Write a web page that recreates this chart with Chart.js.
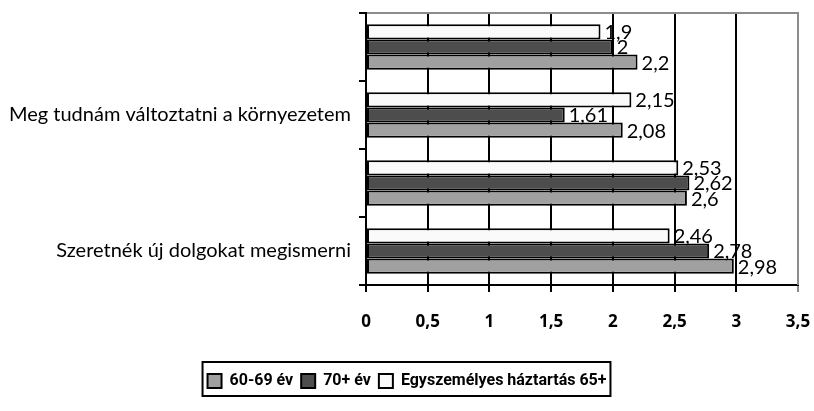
<!DOCTYPE html>
<html>
<head>
<meta charset="utf-8">
<script src="https://cdn.jsdelivr.net/npm/chart.js@4"></script>
<style>
  html, body { margin: 0; padding: 0; background: #fff; }
  #wrap { width: 814px; height: 411px; }
</style>
</head>
<body>
<div id="wrap"><canvas id="chart" width="814" height="411"></canvas></div>
<script>
'use strict';

// categories top to bottom (every other one has no label in the source)
const categories = ['', 'Meg tudnám változtatni a környezetem', '', 'Szeretnék új dolgokat megismerni'];
const seriesNames = ['Egyszemélyes háztartás 65+', '70+ év', '60-69 év'];
const single65 = [1.9, 2.15, 2.53, 2.46];
const age70 = [2, 1.61, 2.62, 2.78];
const age6069 = [2.2, 2.08, 2.6, 2.98];
const xTicks = [0, 0.5, 1, 1.5, 2, 2.5, 3, 3.5];

const FONT = 'Lato, "Open Sans", sans-serif';
const BOLD_FONT = '"Open Sans", sans-serif';
const LEGEND_FONT = 'Roboto, "Open Sans", sans-serif';
const fmt = v => String(v).replace('.', ',');

// value labels to the right of each bar
const valueLabels = {
  id: 'valueLabels',
  afterDatasetsDraw(chart) {
    const ctx = chart.ctx;
    ctx.save();
    ctx.font = '20px ' + FONT;
    ctx.fillStyle = '#000';
    ctx.textAlign = 'left';
    ctx.textBaseline = 'middle';
    chart.data.datasets.forEach((ds, i) => {
      chart.getDatasetMeta(i).data.forEach((bar, j) => {
        ctx.fillText(fmt(ds.data[j]), bar.x + 4, bar.y + 1);
      });
    });
    ctx.restore();
  }
};

// gray frame on top/right, black left axis, box round the legend
const frame = {
  id: 'frame',
  afterDraw(chart) {
    const ctx = chart.ctx;
    const a = chart.chartArea;
    ctx.save();
    ctx.lineWidth = 2;
    ctx.strokeStyle = '#8c8c8c';
    ctx.beginPath();
    ctx.moveTo(a.left, a.top);
    ctx.lineTo(a.right, a.top);
    ctx.lineTo(a.right, a.bottom);
    ctx.stroke();
    ctx.strokeStyle = '#000';
    ctx.beginPath();
    ctx.moveTo(a.left, a.top - 1);
    ctx.lineTo(a.left, a.bottom + 1);
    ctx.stroke();

    const boxes = chart.legend.legendHitBoxes;
    if (boxes && boxes.length) {
      const left = Math.min(...boxes.map(b => b.left)) - 5;
      const right = Math.max(...boxes.map(b => b.left + b.width)) + 4;
      const top = Math.min(...boxes.map(b => b.top)) - 11;
      const bottom = Math.max(...boxes.map(b => b.top + b.height)) + 7;
      ctx.strokeRect(left, top, right - left, bottom - top);
    }
    ctx.restore();
  }
};

const makeSet = (label, data, color) => ({
  label: label,
  data: data,
  backgroundColor: color,
  borderColor: '#000',
  borderWidth: 2,
  borderSkipped: false,
  categoryPercentage: 0.67,
  barPercentage: 1
});

new Chart(document.getElementById('chart'), {
  type: 'bar',
  data: {
    labels: categories,
    datasets: [
      makeSet(seriesNames[0], single65, '#fafafa'),
      makeSet(seriesNames[1], age70, '#4d4d4d'),
      makeSet(seriesNames[2], age6069, '#a0a0a0')
    ]
  },
  options: {
    indexAxis: 'y',
    responsive: false,
    animation: false,
    layout: { padding: { top: 13, right: 0, left: 0, bottom: 12 } },
    scales: {
      x: {
        min: 0,
        max: 3.5,
        afterBuildTicks: scale => { scale.ticks = xTicks.map(v => ({ value: v })); },
        border: { color: '#000', width: 2 },
        grid: {
          color: ctx => ctx.index === xTicks.length - 1 ? '#8c8c8c' : '#000',
          lineWidth: 2,
          tickLength: 7
        },
        ticks: {
          padding: 20,
          color: '#000',
          font: { family: BOLD_FONT, size: 17, weight: 'bold' },
          callback: v => fmt(v),
          maxRotation: 0
        },
        afterFit: scale => { scale.height = 80; scale.paddingRight = 16; }
      },
      y: {
        border: { color: '#000', width: 2 },
        grid: {
          drawOnChartArea: false,
          color: '#000',
          lineWidth: 2,
          tickLength: 7
        },
        ticks: {
          padding: 8,
          color: '#000',
          font: { family: FONT, size: 20 },
          autoSkip: false
        },
        afterFit: scale => { scale.width = 366; scale.paddingTop = 0; scale.paddingBottom = 0; }
      }
    },
    plugins: {
      legend: {
        position: 'bottom',
        reverse: true,
        labels: {
          color: '#000',
          font: { family: LEGEND_FONT, size: 16, weight: 'bold' },
          boxWidth: 14,
          boxHeight: 14,
          padding: 8,
          useBorderRadius: false
        }
      },
      tooltip: { enabled: false }
    }
  },
  plugins: [valueLabels, frame]
});
</script>
</body>
</html>
